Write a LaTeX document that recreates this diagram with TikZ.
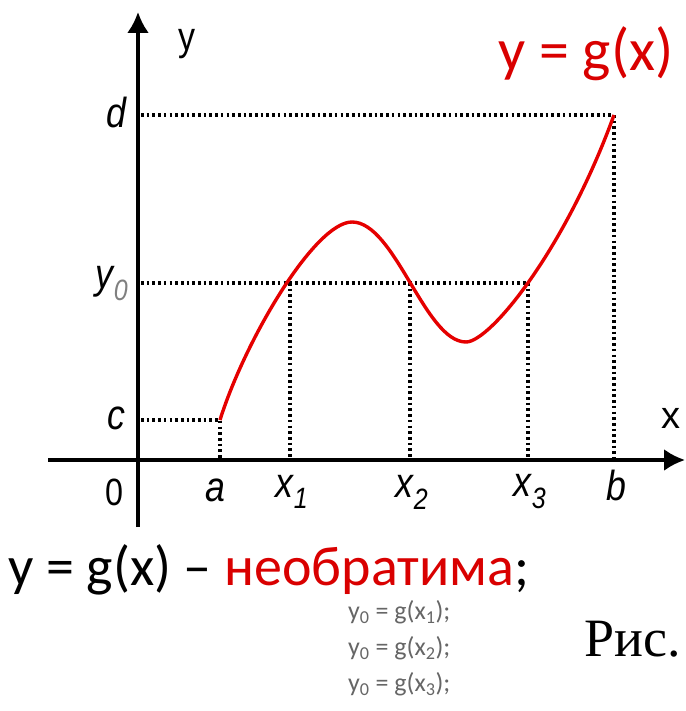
\documentclass[tikz,border=0pt]{standalone}
\usepackage{fontspec}
\setmainfont{Carlito}
\newfontfamily\arialf{Liberation Sans}
\newfontfamily\timesf{Liberation Serif}
\newcommand{\narrowlbl}[1]{\scalebox{0.85}[1]{#1}}
\begin{document}
\begin{tikzpicture}[x=1pt,y=-1pt,
  axis/.style={line width=3.4pt,-{Latex[length=21pt,width=22pt]}},
  dotline/.style={line width=3.8pt,dash pattern=on 2.6pt off 3.1pt},
  axlbl/.style={font=\arialf\itshape\fontsize{42}{42}\selectfont,inner sep=0pt},
  uplbl/.style={font=\arialf\fontsize{40}{40}\selectfont,inner sep=0pt},
  curve/.style={red!90!black,line width=3.4pt}]
\useasboundingbox (0,0) rectangle (685,711);
\usetikzlibrary{arrows.meta}
% key points
\coordinate (O) at (139,460);
\coordinate (A) at (220,420);
\coordinate (P1) at (290,283);
\coordinate (M) at (352,222);
\coordinate (P2) at (410,283);
\coordinate (N) at (466,342);
\coordinate (P3) at (528,283);
\coordinate (B) at (614,115);
\coordinate (yd) at (141,115);
\coordinate (yy) at (141,283);
\coordinate (yc) at (141,420);
\coordinate (ax) at (220,460);
\coordinate (x1) at (290,460);
\coordinate (x2) at (410,460);
\coordinate (x3) at (528,460);
\coordinate (xb) at (614,460);
\coordinate (xs) at (48,460);
\coordinate (xe) at (685,460);
\coordinate (ys) at (138,527);
\coordinate (ye) at (138,12);
% dotted guides
\draw[dotline] (yd) -- (B) -- (xb);
\draw[dotline] (yy) -- (P3);
\draw[dotline] (yc) -- (A) -- (ax);
\draw[dotline] (P1) -- (x1);
\draw[dotline] (P2) -- (x2);
\draw[dotline] (P3) -- (x3);
% axes
\draw[axis] (xs) -- (xe);
\draw[axis] (ys) -- (ye);
% curve
\draw[curve] (A) .. controls (245,340) and (315,222) .. (M)
  .. controls (395,222) and (425,342) .. (N)
  .. controls (490,342) and (565,250) .. (B);
% labels
\node[uplbl] (ly) at (187,44) {\narrowlbl{y}};
\node[uplbl,font=\arialf\fontsize{38}{38}\selectfont] (lx) at (671,418) {x};
\node[uplbl,font=\arialf\fontsize{38}{38}\selectfont] (l0) at (114,492) {\narrowlbl{0}};
\node[axlbl] (ld) at (116,112) {\narrowlbl{d}};
\node[axlbl] (ly0) at (112,284) {\narrowlbl{y\textsubscript{\color{gray}0}}};
\node[axlbl] (lc) at (116,418) {\narrowlbl{c}};
\node[axlbl] (la) at (215,490) {\narrowlbl{a}};
\node[axlbl] (lx1) at (292,492) {\narrowlbl{x\textsubscript{1}}};
\node[axlbl] (lx2) at (412,492) {\narrowlbl{x\textsubscript{2}}};
\node[axlbl] (lx3) at (530,492) {\narrowlbl{x\textsubscript{3}}};
\node[axlbl] (lb) at (616,485) {\narrowlbl{b}};
\node[inner sep=0pt,red!85!black,font=\fontsize{60}{60}\selectfont] (title) at (586,54) {y = g(x)};
\node[inner sep=0pt,anchor=west,font=\fontsize{56}{56}\selectfont] (main) at (8,570) {y = g(x) – {\color{red!85!black}необратима};};
\node[inner sep=0pt,anchor=west,gray!80!black,font=\fontsize{26}{26}\selectfont] (e1) at (348,612) {y\textsubscript{0} = g(x\textsubscript{1});};
\node[inner sep=0pt,anchor=west,gray!80!black,font=\fontsize{26}{26}\selectfont] (e2) at (348,648) {y\textsubscript{0} = g(x\textsubscript{2});};
\node[inner sep=0pt,anchor=west,gray!80!black,font=\fontsize{26}{26}\selectfont] (e3) at (348,684) {y\textsubscript{0} = g(x\textsubscript{3});};
\node[inner sep=0pt,anchor=base west,font=\timesf\fontsize{54}{54}\selectfont] (ris) at (584,656) {Рис.};
\end{tikzpicture}
\end{document}
